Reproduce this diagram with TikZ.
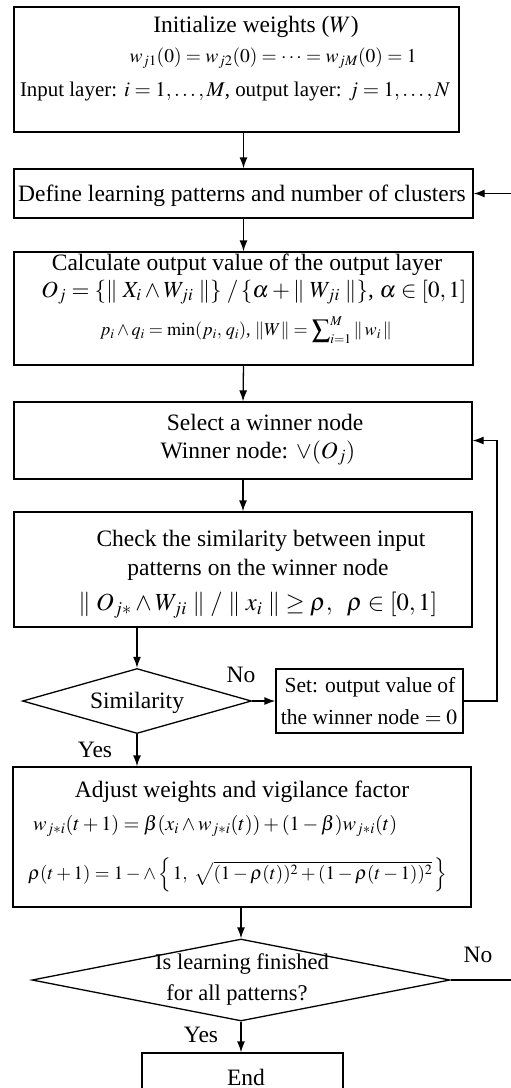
\documentclass[tikz,border=0pt]{standalone}
\usepackage{mathptmx}
\usepackage[no-math]{fontspec}
\setmainfont{Liberation Serif}
\usetikzlibrary{arrows.meta,shapes.geometric}
\begin{document}
\begin{tikzpicture}[x=1pt,y=-1pt,
  box/.style={draw, line width=1.3pt, inner sep=0pt, rectangle},
  dia/.style={draw, line width=1.3pt, inner sep=0pt, diamond},
  txt/.style={inner sep=0pt, font=\fontsize{23.5}{28}\selectfont},
  settxt/.style={inner sep=0pt, font=\fontsize{21.5}{26}\selectfont},
  diatxt/.style={inner sep=0pt, font=\fontsize{22.5}{27}\selectfont},
  mth/.style={inner sep=0pt, font=\fontsize{20}{24}\selectfont},
  arr/.style={-{Latex[length=11pt,width=8pt]}, line width=1.3pt}]
\useasboundingbox (0,0) rectangle (511,1088);

% boxes
\node[box, minimum width=445pt, minimum height=125pt] (b1) at (236.5,69.5) {};
\node[box, minimum width=459pt, minimum height=49pt] (b2) at (243.5,193.5) {};
\node[box, minimum width=459pt, minimum height=113pt] (b3) at (243.5,308.5) {};
\node[box, minimum width=458pt, minimum height=77pt] (b4) at (243,440.5) {};
\node[box, minimum width=458pt, minimum height=115pt] (b5) at (243,569.5) {};
\node[dia, minimum width=229pt, minimum height=65pt, aspect=3.5] (d1) at (137,701) {};
\node[box, minimum width=187pt, minimum height=64pt] (set) at (369.5,701) {};
\node[box, minimum width=458pt, minimum height=140pt] (b6) at (242,837) {};
\node[dia, minimum width=418pt, minimum height=82pt, aspect=5.1] (d2) at (241,980) {};
\node[box, minimum width=201pt, minimum height=47pt] (end) at (242.5,1076.5) {};

% texts
\node[txt] (t11) at (256,27) {Initialize weights ($W$)};
\node[mth] (t12) at (273,58) {\resizebox{287pt}{!}{$w_{j1}(0) = w_{j2}(0) = \cdots = w_{jM}(0) = 1$}};
\node[mth] (t13) at (235,91) {\resizebox{430pt}{!}{Input layer: $i = 1,\ldots,M$, output layer: $j = 1,\ldots,N$}};
\node[txt] (t21) at (242,196) {Define learning patterns and number of clusters};
\node[txt] (t31) at (247,265) {Calculate output value of the output layer};
\node[mth] (t32) at (254,292) {\resizebox{425pt}{!}{$O_j = \{\|\; X_i \wedge W_{ji} \;\|\}\;/\,\{\alpha + \|\; W_{ji} \;\|\}$, $\alpha \in [0,1]$}};
\node[mth] (t33) at (246,330) {\resizebox{292pt}{!}{$p_i \wedge q_i = \min(p_i,\, q_i)$, $\|W\| = \displaystyle\sum\nolimits_{i=1}^{M} \|\, w_i \,\|$}};
\node[txt] (t41) at (265,422) {Select a winner node};
\node[txt] (t42) at (258,453) {Winner node: $\vee(O_j)$};
\node[txt] (t51) at (261,541) {Check the similarity between input};
\node[txt] (t52) at (258,570) {patterns on the winner node};
\node[mth] (t53) at (258,605) {\resizebox{359pt}{!}{$\|\; O_{j*} \wedge W_{ji} \;\| \;/\; \|\; x_i \;\| \geq \rho,\;\ \rho \in [0,1]$}};
\node[txt] (td1) at (137,703) {Similarity};
\node[settxt] (ts1) at (370,687) {Set: output value of};
\node[settxt] (ts2) at (369,717) {the winner node $= 0$};
\node[txt] (t61) at (242,792) {Adjust weights and vigilance factor};
\node[mth, anchor=west] (t62) at (33,826) {\resizebox{364pt}{!}{$w_{j*i}(t+1) = \beta(x_i \wedge w_{j*i}(t)) + (1-\beta) w_{j*i}(t)$}};
\node[mth, anchor=west] (t63) at (28,875) {\resizebox{419pt}{!}{$\rho(t+1) = 1 - \wedge\left\{\,1,\ \sqrt{(1-\rho(t))^2 + (1-\rho(t-1))^2}\,\right\}$}};
\node[diatxt] (td21) at (242,964) {Is learning finished};
\node[diatxt] (td22) at (237,995) {for all patterns?};
\node[txt] (tend) at (246,1077) {End};

% labels
\node[txt] (no1) at (241,675) {No};
\node[txt] (yes1) at (95,750) {Yes};
\node[txt] (no2) at (478,955) {No};
\node[txt] (yes2) at (201,1035) {Yes};

% connectors
\coordinate (r1) at (497,701);
\coordinate (r2) at (514,980);
\draw[arr] (b2.north |- b1.south) -- (b2.north);
\draw[arr] (b2.south) -- (b3.north);
\draw[arr] (b3.south) -- (b4.north);
\draw[arr] (b4.south) -- (b5.north);
\draw[arr] (d1.north |- b5.south) -- (d1.north);
\draw[arr] (d1.east) -- (set.west);
\draw[arr] (d1.south) -- (d1.south |- b6.north);
\draw[arr] (set.east) -- (r1) |- (b4.east);
\draw[arr] (d2.north |- b6.south) -- (d2.north);
\draw[arr] (d2.east) -- (r2) |- (b2.east);
\draw[arr] (d2.south) -- (d2.south |- end.north);
\end{tikzpicture}
\end{document}
